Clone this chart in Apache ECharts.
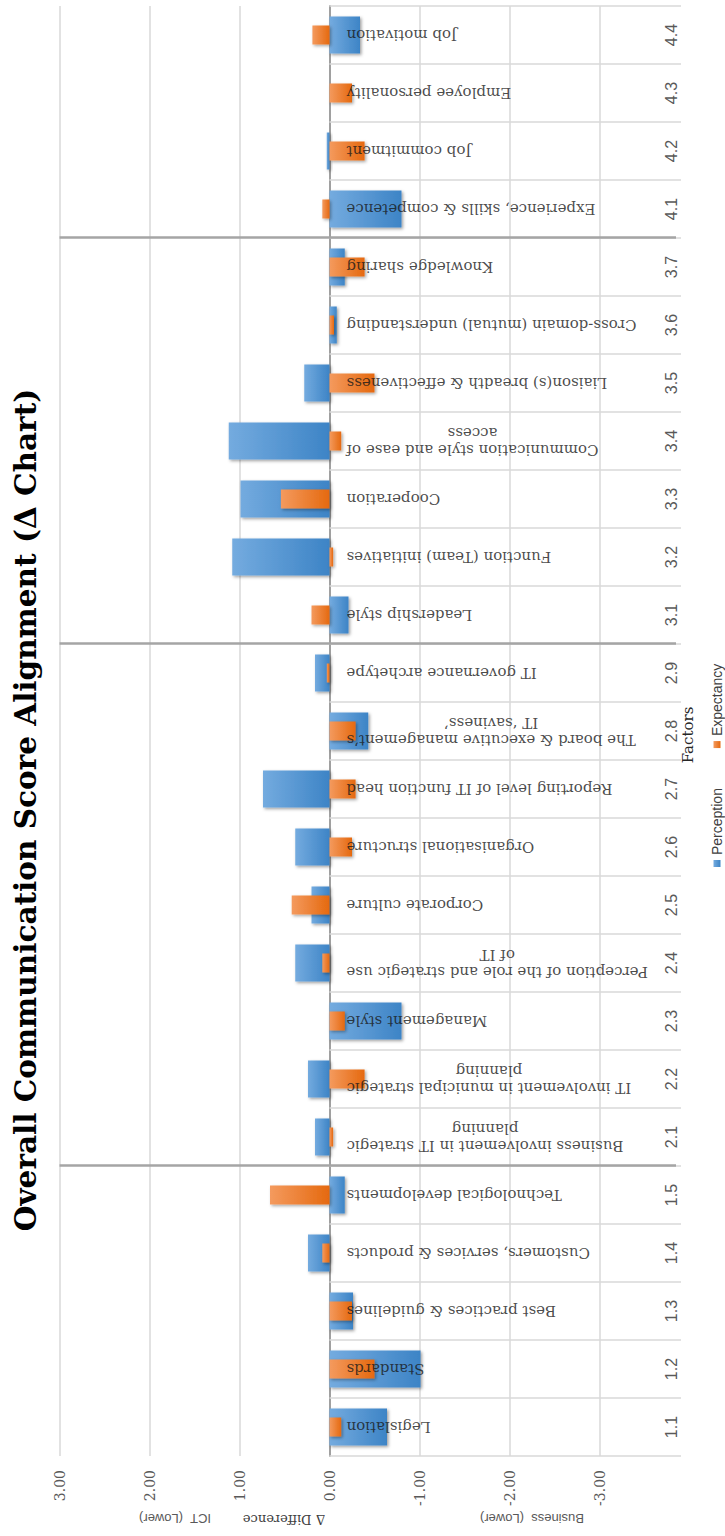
<!DOCTYPE html>
<html>
<head>
<meta charset="utf-8">
<title>Overall Communication Score Alignment</title>
<script src="https://cdn.jsdelivr.net/npm/echarts@6/dist/echarts.min.js"></script>
<style>
  html, body { margin: 0; padding: 0; background: #ffffff; width: 725px; height: 1536px; overflow: hidden; }
  /* The chart is laid out landscape and turned a quarter turn to stand in the portrait page. */
  #chart {
    position: absolute; left: 0; top: 0;
    width: 1536px; height: 725px;
    transform-origin: 0 0;
    transform: translate(0, 1536px) rotate(-90deg);
  }
</style>
</head>
<body>
<div id="chart"></div>
<script>
// Factor codes shown along the category axis
const categories = [
  '1.1', '1.2', '1.3', '1.4', '1.5',
  '2.1', '2.2', '2.3', '2.4', '2.5', '2.6', '2.7', '2.8', '2.9',
  '3.1', '3.2', '3.3', '3.4', '3.5', '3.6', '3.7',
  '4.1', '4.2', '4.3', '4.4'
];

// Factor descriptions written beside each pair of bars
const factorNames = [
  'Legislation',
  'Standards',
  'Best practices & guidelines',
  'Customers, services & products',
  'Technological developments',
  'Business involvement in IT strategic\nplanning',
  'IT involvement in municipal strategic\nplanning',
  'Management style',
  'Perception of the role and strategic use\nof IT',
  'Corporate culture',
  'Organisational structure',
  'Reporting level of IT function head',
  'The board & executive management\u2019s\nIT \u2018saviness\u2019',
  'IT governance archetype',
  'Leadership style',
  'Function (Team) initiatives',
  'Cooperation',
  'Communication style and ease of\naccess',
  'Liaison(s) breadth & effectiveness',
  'Cross-domain (mutual) understanding',
  'Knowledge sharing',
  'Experience, skills & competence',
  'Job commitment',
  'Employee personality',
  'Job motivation'
];

// Δ difference per factor (positive: ICT lower, negative: Business lower)
const perception = [
  -0.64, -1.01, -0.26, 0.24, -0.17,
  0.16, 0.24, -0.80, 0.38, 0.20, 0.38, 0.74, -0.43, 0.16,
  -0.21, 1.08, 0.99, 1.12, 0.28, -0.08, -0.17,
  -0.80, 0.03, 0.00, -0.34
];
const expectancy = [
  -0.13, -0.50, -0.25, 0.08, 0.66,
  -0.04, -0.39, -0.17, 0.08, 0.42, -0.25, -0.29, -0.29, 0.03,
  0.20, -0.04, 0.54, -0.13, -0.50, -0.05, -0.39,
  0.08, -0.39, -0.25, 0.19
];

// Value axis range and step
const valueMin = -4;
const valueMax = 3;
const valueStep = 1;

// Positions where the factor group number changes (1.x -> 2.x, ...)
const groupBreaks = categories
  .map((c, i) => (i > 0 && c.split('.')[0] !== categories[i - 1].split('.')[0]) ? i : null)
  .filter(v => v !== null);

const SEPARATOR_END = -3.85;   // where the group separator lines stop on the value axis
const SERIF = '"DejaVu Serif", "Liberation Serif", serif';
const SANS = '"Liberation Sans", Arial, sans-serif';

function barGradient(light, dark) {
  return new echarts.graphic.LinearGradient(0, 0, 0, 1, [
    { offset: 0, color: light },
    { offset: 1, color: dark }
  ]);
}

const chart = echarts.init(document.getElementById('chart'), null, { renderer: 'svg' });

chart.setOption({
  animation: false,
  backgroundColor: '#ffffff',
  grid: {
    left: 80, right: 6, top: 59.5, bottom: 35.5,
    containLabel: false,
    outerBoundsMode: 'none'
  },
  legend: {
    data: ['Perception', 'Expectancy'],
    left: 664, top: 705,
    icon: 'rect', itemWidth: 7, itemHeight: 7, itemGap: 40,
    textStyle: { fontFamily: SANS, fontSize: 14, color: '#404040' },
    selectedMode: false
  },
  xAxis: [
    {
      // zero line with the band dividers running down into the "Business lower" side
      type: 'category',
      data: categories,
      position: 'bottom',
      axisLine: { show: true, onZero: true, lineStyle: { color: '#a0a0a0', width: 2 } },
      axisTick: { show: true, inside: false, length: 351.5, lineStyle: { color: '#d9d9d9', width: 1.5 } },
      axisLabel: { show: false },
      splitLine: { show: false }
    },
    {
      // factor codes near the lower edge of the plot
      type: 'category',
      data: categories,
      position: 'bottom',
      axisLine: { show: false, onZero: false },
      axisTick: { show: false },
      axisLabel: { show: true, margin: -26, fontFamily: SANS, fontSize: 16, color: '#595959' },
      splitLine: { show: false }
    },
    {
      type: 'value',
      min: 0, max: categories.length,
      show: false
    }
  ],
  yAxis: {
    type: 'value',
    min: valueMin, max: valueMax, interval: valueStep,
    axisLine: { show: false },
    axisTick: { show: false },
    axisLabel: {
      show: true, margin: 14, showMinLabel: false,
      fontFamily: SERIF, fontSize: 14, color: '#595959',
      formatter: v => v.toFixed(2)
    },
    splitLine: { show: true, showMinLine: false, lineStyle: { color: '#d9d9d9', width: 1.5 } }
  },
  graphic: [
    {
      type: 'text', x: 726, y: 10,
      style: {
        text: 'Overall Communication Score Alignment (\u0394 Chart)',
        font: 'bold 29.5px ' + SERIF, fill: '#000000',
        align: 'center', textAlign: 'center', verticalAlign: 'top', textVerticalAlign: 'top'
      }
    },
    {
      type: 'text', x: 801, y: 688,
      style: {
        text: 'Factors', font: '15px ' + SERIF, fill: '#262626',
        align: 'center', textAlign: 'center', verticalAlign: 'middle', textVerticalAlign: 'middle'
      }
    },
    {
      type: 'text', x: 17, y: 284, rotation: Math.PI / 2,
      style: {
        text: '\u0394 Difference', font: '13px ' + SERIF, fill: '#404040',
        align: 'center', textAlign: 'center', verticalAlign: 'middle', textVerticalAlign: 'middle'
      }
    },
    {
      type: 'text', x: 18, y: 175, rotation: Math.PI / 2,
      style: {
        text: 'ICT  (Lower)', font: '13px ' + SANS, fill: '#595959',
        align: 'center', textAlign: 'center', verticalAlign: 'middle', textVerticalAlign: 'middle'
      }
    },
    {
      type: 'text', x: 18, y: 532, rotation: Math.PI / 2,
      style: {
        text: 'Business  (Lower)', font: '13px ' + SANS, fill: '#595959',
        align: 'center', textAlign: 'center', verticalAlign: 'middle', textVerticalAlign: 'middle'
      }
    }
  ],
  series: [
    {
      name: 'Perception',
      type: 'bar',
      xAxisIndex: 0, yAxisIndex: 0,
      data: perception,
      barWidth: 37,
      itemStyle: {
        color: barGradient('#74abdf', '#3d84c6'),
        shadowColor: 'rgba(0,0,0,0.38)', shadowBlur: 3, shadowOffsetX: -1.5, shadowOffsetY: 1.5
      },
      z: 2
    },
    {
      name: 'Expectancy',
      type: 'bar',
      xAxisIndex: 1, yAxisIndex: 0,
      data: expectancy,
      barWidth: 19,
      itemStyle: {
        color: barGradient('#f49a5e', '#e5690f'),
        shadowColor: 'rgba(0,0,0,0.35)', shadowBlur: 3, shadowOffsetX: -1.5, shadowOffsetY: 1.5
      },
      z: 3
    },
    {
      name: 'groups',
      type: 'line',
      xAxisIndex: 2, yAxisIndex: 0,
      data: [],
      silent: true,
      markLine: {
        silent: true,
        symbol: 'none',
        label: { show: false },
        lineStyle: { color: '#a5a5a5', width: 2.5, type: 'solid' },
        emphasis: { disabled: true },
        data: groupBreaks.map(b => [{ coord: [b, valueMax] }, { coord: [b, SEPARATOR_END] }])
      }
    },
    {
      name: 'factor names',
      type: 'scatter',
      xAxisIndex: 0, yAxisIndex: 0,
      data: categories.map(c => [c, 0]),
      symbolSize: 0,
      silent: true,
      itemStyle: { color: 'rgba(0,0,0,0)' },
      label: {
        show: true,
        position: 'bottom',
        distance: 17,
        rotate: 90,
        align: 'right',
        verticalAlign: 'middle',
        formatter: p => factorNames[p.dataIndex].split('\n').map(s => '{t|' + s + '}').join('\n'),
        rich: {
          t: { align: 'center', fontFamily: SERIF, fontSize: 15, lineHeight: 17, color: '#1a1a1a' }
        }
      },
      z: 5
    }
  ]
});
</script>
</body>
</html>
